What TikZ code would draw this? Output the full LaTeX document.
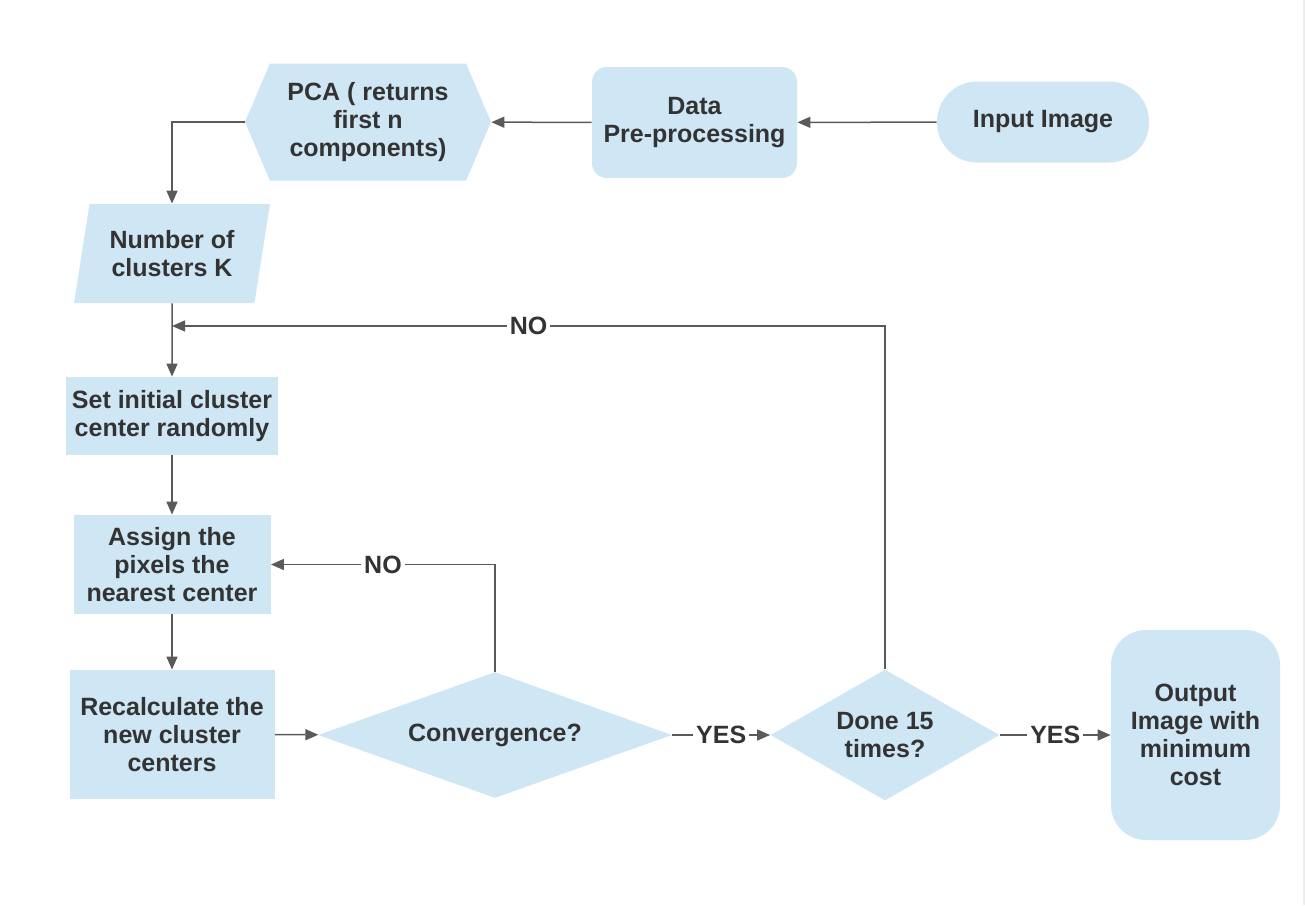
\documentclass[tikz,border=0pt]{standalone}
\usepackage{fontspec}
\setmainfont{Liberation Sans}
\usetikzlibrary{arrows.meta, shapes.geometric, shapes.symbols}
\definecolor{boxblue}{RGB}{207,230,244}
\definecolor{linegray}{RGB}{90,90,90}
\definecolor{textgray}{RGB}{51,51,51}

\begin{document}
\begin{tikzpicture}[x=0.5pt, y=-0.5pt,
    every node/.style={font=\bfseries\fontsize{12.5}{14}\selectfont, text=textgray, align=center},
    box/.style={fill=boxblue, inner sep=0pt},
    line/.style={draw=linegray, line width=0.75pt, -{Triangle[length=6.5pt,width=5.5pt]}},
    lbl/.style={fill=white, inner sep=1.5pt}]
    \useasboundingbox (0,0) rectangle (1305,905);
    \draw[gray!15, line width=0.75pt] (1304,0) -- (1304,905);
    \node[box, rounded corners=20pt, minimum width=106pt, minimum height=40.5pt] (input) at (1043,122) {Input Image};
    \node[box, rounded corners=7.5pt, minimum width=102.5pt, minimum height=55.5pt] (data) at (694.5,122.5) {Data\\Pre-processing};
    \node[box, signal, signal to=west and east, signal pointer angle=134, minimum width=123pt, minimum height=58.5pt] (pca) at (368,122) {PCA ( returns\\first n\\components)};
    \node[box, trapezium, trapezium left angle=75.8, trapezium right angle=104.2, trapezium stretches=true, minimum width=98.5pt, minimum height=49.5pt] (num) at (172,253.5) {Number of\\clusters K};
    \node[box, minimum width=106pt, minimum height=39pt] (set) at (172,416) {Set initial cluster\\center randomly};
    \node[box, minimum width=98.5pt, minimum height=49.5pt] (assign) at (172,564.5) {Assign the\\pixels the\\nearest center};
    \node[box, minimum width=102.5pt, minimum height=64.5pt] (recalc) at (172,734.5) {Recalculate the\\new cluster\\centers};
    \node[box, diamond, aspect=2.8, minimum width=177pt, minimum height=63pt] (conv) at (495,735) {Convergence?};
    \node[box, diamond, aspect=1.75, minimum width=114.5pt, minimum height=65.5pt] (done) at (885,735) {Done 15\\times?};
    \node[box, rounded corners=17.5pt, minimum width=84.5pt, minimum height=105pt] (out) at (1195.5,735) {Output\\Image with\\minimum\\cost};
    \coordinate (back) at (172,326);

    \draw[line] (input) -- (data);
    \draw[line] (data) -- (pca);
    \draw[line] (pca.west) -| (num.north);
    \draw[line] (num) -- (set);
    \draw[line] (set) -- (assign);
    \draw[line] (assign) -- (recalc);
    \draw[line] (recalc) -- (conv);
    \draw[line] (conv.north) |- node[lbl, pos=0.75] {NO} (assign.east);
    \draw[line] (conv) -- node[lbl] {YES} (done);
    \draw[line] (done.north) |- node[lbl, pos=0.75] {NO} (back);
    \draw[line] (done) -- node[lbl] {YES} (out);
\end{tikzpicture}
\end{document}
